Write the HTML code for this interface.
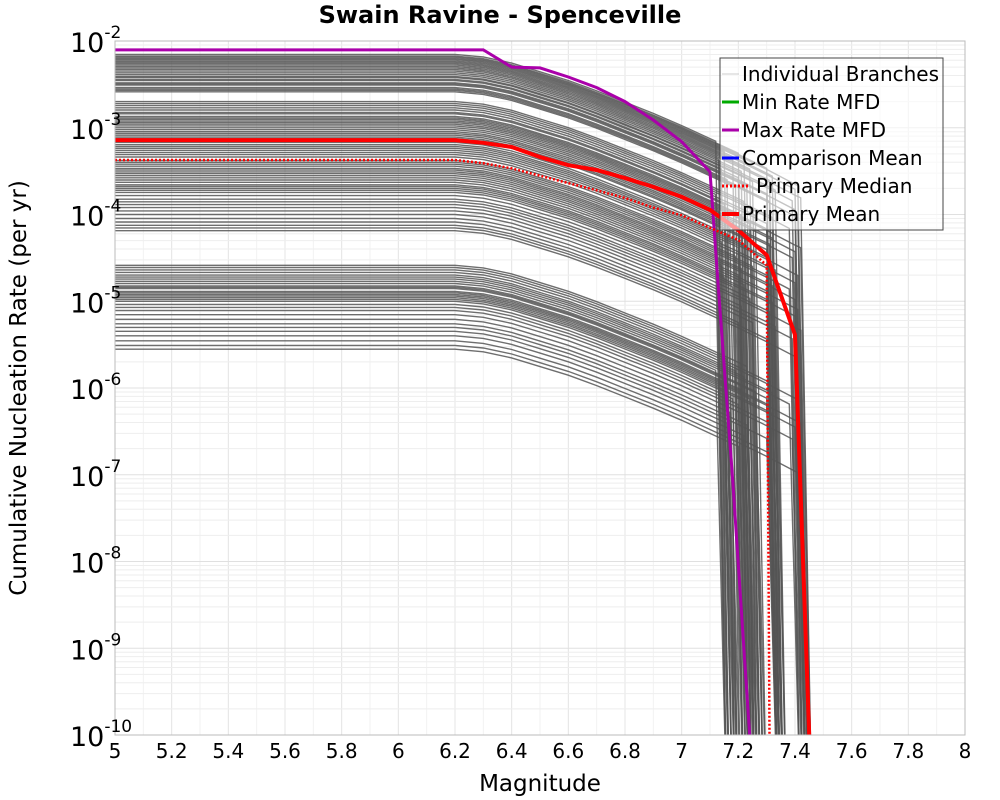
<!DOCTYPE html>
<html><head><meta charset="utf-8"><style>
body{margin:0;background:#fff;font-family:"DejaVu Sans","Liberation Sans",sans-serif}
svg{display:block}
</style></head><body>
<svg id="chart" width="1000" height="800" xmlns="http://www.w3.org/2000/svg">
<text x="500" y="23" text-anchor="middle" font-size="24" font-weight="bold" font-family="DejaVu Sans,Liberation Sans,sans-serif">Swain Ravine - Spenceville</text>
<text x="540" y="791" text-anchor="middle" font-size="23" font-family="DejaVu Sans,Liberation Sans,sans-serif">Magnitude</text>
<text transform="translate(26,388) rotate(-90)" text-anchor="middle" font-size="23" font-family="DejaVu Sans,Liberation Sans,sans-serif">Cumulative Nucleation Rate (per yr)</text>
<g id="grid"></g>
<defs><clipPath id="pc"><rect x="115" y="41" width="850" height="694"/></clipPath></defs>
<g id="branches" clip-path="url(#pc)"></g>
<g id="mains" clip-path="url(#pc)"></g>
<rect x="115" y="41" width="850" height="694" fill="none" stroke="#bbb" stroke-width="1"/>
<g id="ticks"></g>
<g font-size="20">
<rect x="720" y="58" width="223" height="172" fill="#fff" fill-opacity="0.6" stroke="#444" stroke-width="1"/>
<g><line x1="722" y1="74" x2="739" y2="74" stroke="#ccc" stroke-width="1"/><text x="742" y="81">Individual Branches</text></g>
<g><line x1="722" y1="102" x2="739" y2="102" stroke="#0a0" stroke-width="3"/><text x="742" y="109">Min Rate MFD</text></g>
<g><line x1="722" y1="130" x2="739" y2="130" stroke="#a0a" stroke-width="3"/><text x="742" y="137">Max Rate MFD</text></g>
<g><line x1="722" y1="158" x2="739" y2="158" stroke="#00f" stroke-width="3"/><text x="742" y="165">Comparison Mean</text></g>
<g><line x1="722" y1="186" x2="750" y2="186" stroke="#f00" stroke-width="3" stroke-dasharray="2,2"/><text x="756" y="193">Primary Median</text></g>
<g><line x1="722" y1="214" x2="739" y2="214" stroke="#f00" stroke-width="4"/><text x="742" y="221">Primary Mean</text></g>
</g>
</svg>
<script>
const xTicks=[5,5.2,5.4,5.6,5.8,6,6.2,6.4,6.6,6.8,7,7.2,7.4,7.6,7.8,8];
const yExps=[-2,-3,-4,-5,-6,-7,-8,-9,-10];
const branchRates=[7.0e-3,6.7e-3,6.5e-3,6.3e-3,6.1e-3,5.9e-3,5.7e-3,5.5e-3,5.3e-3,5.1e-3,4.9e-3,4.7e-3,4.5e-3,4.3e-3,4.1e-3,3.9e-3,3.8e-3,3.6e-3,3.5e-3,3.3e-3,3.2e-3,3.1e-3,2.9e-3,2.8e-3,2.7e-3,2.6e-3,
2.0e-3,1.9e-3,1.8e-3,1.7e-3,1.6e-3,1.5e-3,1.45e-3,1.35e-3,1.3e-3,1.25e-3,1.2e-3,1.15e-3,1.1e-3,1.05e-3,1.0e-3,9.5e-4,9e-4,8.6e-4,8.2e-4,7.8e-4,7.5e-4,6.8e-4,6.4e-4,6.1e-4,5.8e-4,5.5e-4,5.2e-4,4.9e-4,4.6e-4,
4.2e-4,4.0e-4,3.8e-4,3.6e-4,3.4e-4,3.25e-4,3.1e-4,2.95e-4,2.8e-4,2.65e-4,2.5e-4,2.35e-4,2.2e-4,2.1e-4,2.0e-4,1.9e-4,1.8e-4,1.65e-4,1.5e-4,1.4e-4,1.3e-4,1.2e-4,1.1e-4,1.0e-4,9e-5,8.2e-5,7.5e-5,7e-5,6.5e-5,
2.6e-5,2.45e-5,2.3e-5,2.15e-5,2.0e-5,1.9e-5,1.8e-5,1.7e-5,1.6e-5,1.5e-5,1.45e-5,1.4e-5,1.3e-5,1.25e-5,1.2e-5,1.15e-5,1.1e-5,1.05e-5,1.0e-5,9.2e-6,8.5e-6,7.8e-6,7e-6,6.2e-6,5.5e-6,5e-6,4.5e-6,4e-6,3.5e-6,3.1e-6,2.8e-6];
const branchMmax=[7.12,7.2,7.3,7.41,7.22,7.15,7.32,7.4,7.18,7.24,7.31,7.42,7.13,7.21,7.33,7.39,7.25,7.14,7.2,7.3,7.4,7.23,7.16,7.31,7.41,7.19,
7.22,7.32,7.38,7.12,7.26,7.3,7.15,7.21,7.3,7.42,7.24,7.13,7.32,7.4,7.18,7.2,7.31,7.39,7.17,7.23,7.3,7.16,7.22,7.31,7.41,7.2,7.14,7.33,7.4,
7.19,7.25,7.3,7.38,7.12,7.21,7.32,7.4,7.14,7.2,7.3,7.41,7.22,7.15,7.32,7.4,7.18,7.24,7.31,7.42,7.13,7.21,7.33,7.39,7.25,7.14,7.2,7.3,7.4,
7.23,7.16,7.31,7.41,7.19,7.22,7.32,7.38,7.12,7.26,7.3,7.15,7.21,7.3,7.42,7.24,7.13,7.32,7.4,7.18,7.2,7.31,7.39,7.17,7.23,7.3,7.16,7.22,7.31,7.41,7.2];
const shapeM=[5,6.2,6.3,6.4,6.5,6.6,6.7,6.8,6.9,7.0,7.1,7.2,7.3,7.4,7.5];
const shapeDrop=[0,0,-0.03,-0.1,-0.2,-0.3,-0.42,-0.55,-0.68,-0.82,-0.97,-1.12,-1.28,-1.45,-1.6];
const maxM=[5,6.3,6.4,6.5,6.6,6.7,6.8,6.9,7.0,7.1,7.13,7.18,7.22,7.24];
const maxRate=[7.9e-3,7.9e-3,5.0e-3,4.9e-3,3.85e-3,2.9e-3,2.0e-3,1.23e-3,6.9e-4,3.1e-4,1.35e-5,8.7e-8,9.5e-10,1e-10];
const meanM=[5,6.2,6.3,6.4,6.5,6.6,6.7,6.8,6.9,7.0,7.1,7.2,7.3,7.4,7.45];
const meanRate=[7.2e-4,7.2e-4,6.7e-4,6.0e-4,4.6e-4,3.7e-4,3.26e-4,2.63e-4,2.08e-4,1.6e-4,1.13e-4,6.6e-5,3.4e-5,4.1e-6,1e-10];
const medM=[5,6.2,6.3,6.4,6.5,6.6,6.7,6.8,6.9,7.0,7.1,7.2,7.3,7.31];
const medRate=[4.25e-4,4.25e-4,3.9e-4,3.4e-4,2.8e-4,2.3e-4,1.9e-4,1.55e-4,1.2e-4,9.8e-5,7.0e-5,5.1e-5,2.6e-5,1e-10];

const NS='http://www.w3.org/2000/svg';
const X=m=>115+(m-5)/3*850;
const Y=r=>41+(-2-Math.log10(r))*86.75;
function mk(tag,attrs,parent){const e=document.createElementNS(NS,tag);for(const k in attrs)e.setAttribute(k,attrs[k]);parent.appendChild(e);return e;}
const grid=document.getElementById('grid'),ticks=document.getElementById('ticks');
for(let i=0;i<=30;i++){const m=5+i*0.1;const l=mk('line',{x1:X(m),x2:X(m),y1:41,y2:735,stroke:i%2?'#f2f2f2':'#e4e4e4','stroke-width':1},grid);
}
for(let e=-10;e<-2;e++){for(let k=1;k<10;k++){const y=Y(k*Math.pow(10,e));const l=mk('line',{x1:115,x2:965,y1:y,y2:y,stroke:k==1?'#e0e0e0':'#eeeeee','stroke-width':1},grid);
}}
xTicks.forEach(m=>{const t=mk('text',{x:X(m),y:758,'text-anchor':'middle','font-size':20},ticks);t.textContent=String(m);
});
yExps.forEach(e=>{const y=Y(Math.pow(10,e));const t=mk('text',{x:70,y:y+11,'font-size':27},ticks);t.textContent='10';

const s=mk('tspan',{dy:-14,'font-size':17},t);s.textContent=String(e);});
function pathOf(ms,rs){return ms.map((m,i)=>(i?'L':'M')+X(m).toFixed(1)+','+Y(Math.max(rs[i],1e-11)).toFixed(1)).join('');}
const bg=document.getElementById('branches');
branchRates.forEach((r,i)=>{const mm=branchMmax[i%branchMmax.length];const ms=[],rs=[];
for(let j=0;j<shapeM.length;j++){if(shapeM[j]>=mm)break;ms.push(shapeM[j]);rs.push(r*Math.pow(10,shapeDrop[j]));}
let k=shapeM.findIndex(v=>v>=mm);let d=shapeDrop[k-1]+(shapeDrop[k]-shapeDrop[k-1])*(mm-shapeM[k-1])/0.1;
ms.push(mm);rs.push(r*Math.pow(10,d));ms.push(mm+0.04);rs.push(1e-11);
const p=mk('path',{d:pathOf(ms,rs),fill:'none',stroke:'#555','stroke-width':1.4,'stroke-opacity':0.85},bg);
});
const mg=document.getElementById('mains');
let p=mk('path',{d:pathOf(maxM,maxRate),fill:'none',stroke:'#a0a','stroke-width':3},mg);

p=mk('path',{d:pathOf(medM,medRate),fill:'none',stroke:'#f00','stroke-width':2.5,'stroke-dasharray':'2,2'},mg);

p=mk('path',{d:pathOf(meanM,meanRate),fill:'none',stroke:'#f00','stroke-width':4},mg);

</script>
</body></html>
